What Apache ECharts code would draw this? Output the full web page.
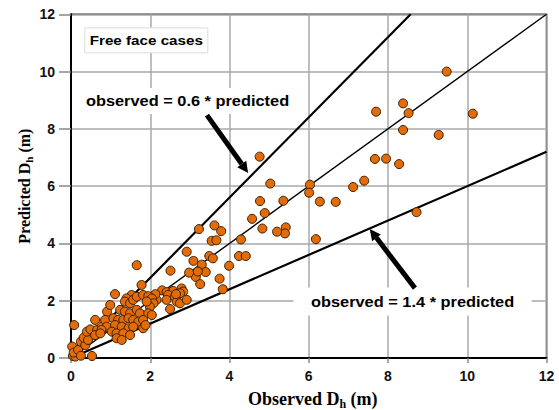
<!DOCTYPE html>
<html><head><meta charset="utf-8">
<script src="https://cdn.jsdelivr.net/npm/echarts@6/dist/echarts.min.js"></script>
<style>html,body{margin:0;padding:0;background:#fff}#c{width:559px;height:410px}</style>
</head><body><div id="c"></div>
<script>
// Observed Dh (m) for each case
const observed = [
  9.48,8.38,7.70,8.52,10.14,8.38,9.28,7.67,7.95,8.28,6.03,6.01,7.12,7.40,6.28,6.68,8.72,6.18,5.42,5.40,4.76,5.03,4.77,5.36,4.89,4.57,4.83,5.20,
  3.62,3.79,3.23,3.55,3.67,4.29,4.24,4.41,3.49,3.58,2.92,3.30,3.99,3.40,3.15,3.75,3.26,3.83,1.66,3.09,2.51,2.98,3.20,
  2.30,2.41,2.58,2.79,2.83,2.75,2.12,2.16,2.45,2.41,2.62,2.67,2.75,2.92,2.50,2.65,2.13,
  0.08,0.03,0.05,0.11,0.07,0.18,0.25,0.53,0.25,0.36,0.32,0.43,0.40,0.49,0.61,0.66,0.61,0.78,0.91,0.99,
  1.78,1.11,1.53,1.40,1.36,1.49,1.57,1.66,1.82,1.95,2.04,2.08,1.99,1.91,1.24,1.36,1.49,1.66,1.74,1.95,2.04,
  0.86,1.07,1.19,1.32,1.45,1.57,1.70,1.82,0.90,1.11,1.28,1.45,1.57,1.82,1.03,1.15,1.32,1.49,1.15,1.28,0.77,0.74,1.88
];
// Predicted Dh (m) for each case
const predicted = [
  10.00,8.89,8.60,8.55,8.53,7.96,7.79,6.95,6.96,6.77,6.05,5.77,5.97,6.19,5.46,5.45,5.09,4.15,4.56,4.35,7.03,6.09,5.48,5.49,5.06,4.86,4.52,4.41,
  4.63,4.43,4.50,4.09,4.11,4.14,3.56,3.56,3.56,3.48,3.71,3.26,3.22,3.00,2.83,2.77,2.58,2.40,3.24,3.39,3.05,2.98,3.02,
  2.36,2.30,2.34,2.43,2.32,2.26,2.14,2.03,2.20,2.03,2.14,1.97,1.91,2.03,1.71,2.23,2.23,
  1.15,0.40,0.07,0.05,0.19,0.28,0.08,0.07,0.57,0.45,0.71,0.63,0.92,1.00,1.33,0.98,0.80,1.09,1.62,1.85,
  2.55,2.23,2.20,2.08,1.97,1.91,2.03,2.14,2.20,2.16,2.08,1.91,1.79,1.97,1.68,1.62,1.56,1.68,1.56,1.56,1.50,
  1.33,1.39,1.33,1.33,1.39,1.33,1.27,1.33,1.09,1.15,1.09,1.04,1.09,1.04,0.92,0.86,0.86,0.80,0.69,0.63,0.98,0.86,1.15
];
const axisTicks = [0, 2, 4, 6, 8, 10, 12];
// Reference lines (end points)
const lineEqualX = [0, 12],     lineEqualY = [0, 12];
const lineSteepX = [0, 8.571],  lineSteepY = [0, 12];
const lineFlatX  = [0, 12],     lineFlatY  = [0, 7.2];
// Annotation anchors (data coordinates)
const titleBoxAt = [1.90, 11.09];
const label06At = [2.94, 8.97], arrow06From = [3.43, 8.48], arrow06To = [4.47, 6.46];
const label14At = [8.62, 1.97], arrow14From = [8.68, 2.44], arrow14To = [7.54, 4.50];

const chart = echarts.init(document.getElementById('c'), null, {renderer: 'svg'});
const pts = observed.map((v, i) => [v, predicted[i]]);
const mk = (xs, ys) => xs.map((v, i) => [v, ys[i]]);
const tickFont = {fontFamily: '"Liberation Sans", Arial, sans-serif', fontWeight: 'bold', fontSize: 14, color: '#111'};

function axis(extra) {
  return Object.assign({
    type: 'value', min: axisTicks[0], max: axisTicks[axisTicks.length - 1], interval: 2,
    axisLine: {show: true, onZero: false, lineStyle: {color: '#000', width: 2}},
    splitLine: {show: true, lineStyle: {color: '#a8a8a8', width: 1.5}},
  }, extra);
}

chart.setOption({
  animation: false,
  backgroundColor: '#fff',
  grid: {left: 71, right: 12.5, top: 14.3, bottom: 52, show: true, borderColor: '#3a3a3a', borderWidth: 1.5},
  xAxis: axis({
    axisTick: {show: true, inside: false, length: 5, lineStyle: {color: '#888', width: 1.5}},
    axisLabel: Object.assign({margin: 11}, tickFont)
  }),
  yAxis: axis({
    axisTick: {show: true, inside: false, length: 12, lineStyle: {color: '#888', width: 1.5}},
    axisLabel: Object.assign({margin: 16}, tickFont)
  }),
  series: [
    {type: 'line', data: mk(lineEqualX, lineEqualY), symbol: 'none', lineStyle: {color: '#000', width: 1.4}, z: 2},
    {type: 'line', data: mk(lineSteepX, lineSteepY), symbol: 'none', lineStyle: {color: '#000', width: 2.2}, z: 2},
    {type: 'line', data: mk(lineFlatX, lineFlatY), symbol: 'none', lineStyle: {color: '#000', width: 2.2}, z: 2},
    {type: 'scatter', data: pts, symbol: 'circle', symbolSize: 9,
     itemStyle: {color: '#E36C09', borderColor: '#3b1f05', borderWidth: 1, opacity: 1}, z: 3}
  ]
});

const P = p => chart.convertToPixel({gridIndex: 0}, p);
function arrow(fromD, toD) {
  const a = P(fromD), b = P(toD);
  const dx = b[0] - a[0], dy = b[1] - a[1], L = Math.hypot(dx, dy);
  const ux = dx / L, uy = dy / L, nx = -uy, ny = ux;
  const h = 11, w = 5.5;
  const s = [b[0] - ux * h, b[1] - uy * h];
  return [
    {type: 'line', shape: {x1: a[0], y1: a[1], x2: s[0], y2: s[1]}, style: {stroke: '#000', lineWidth: 5}, z: 20},
    {type: 'polygon', shape: {points: [b, [s[0] + nx * w, s[1] + ny * w], [s[0] - nx * w, s[1] - ny * w]]}, style: {fill: '#000'}, z: 20}
  ];
}
function boxText(atD, txt, bw, bh, fs, stroke) {
  const c = P(atD);
  return [
    {type: 'rect', shape: {x: c[0] - bw / 2, y: c[1] - bh / 2, width: bw, height: bh},
     style: {fill: '#fff', stroke: stroke || null, lineWidth: 1}, z: 15},
    {type: 'text', x: c[0], y: c[1], scaleX: 1.17, z: 16,
     style: {text: txt, fill: '#000', font: 'bold ' + fs + 'px "Liberation Sans", Arial, sans-serif',
             align: 'center', verticalAlign: 'middle'}}
  ];
}

const g0 = P([0, 0]), g12 = P([12, 12]);
const midX = (g0[0] + g12[0]) / 2, midY = (g0[1] + g12[1]) / 2;
const rich = {
  m: {fontFamily: '"Liberation Serif", "Times New Roman", serif', fontWeight: 'bold', fontSize: 16, lineHeight: 20, fill: '#000'},
  s: {fontFamily: '"Liberation Serif", "Times New Roman", serif', fontWeight: 'bold', fontSize: 11, lineHeight: 10, verticalAlign: 'bottom', fill: '#000'}
};
const richX = {
  m: Object.assign({}, rich.m, {fontSize: 18, lineHeight: 22}),
  s: Object.assign({}, rich.s, {fontSize: 12, lineHeight: 10})
};

chart.setOption({
  graphic: [].concat(
    boxText(titleBoxAt, 'Free face cases', 123, 25, 13, '#dcdcdc'),
    boxText(label06At, 'observed = 0.6 * predicted', 215, 26, 14),
    boxText(label14At, 'observed = 1.4 * predicted', 238, 28, 14),
    arrow(arrow06From, arrow06To),
    arrow(arrow14From, arrow14To),
    [
      {type: 'text', x: 24, y: midY, rotation: Math.PI / 2, z: 16,
       style: {text: '{m|Predicted D}{s|h}{m| (m)}', rich: rich, align: 'center', verticalAlign: 'middle'}},
      {type: 'text', x: midX + 4, y: 399, z: 16,
       style: {text: '{m|Observed D}{s|h}{m| (m)}', rich: richX, align: 'center', verticalAlign: 'middle'}}
    ]
  )
});
</script>
</body></html>
